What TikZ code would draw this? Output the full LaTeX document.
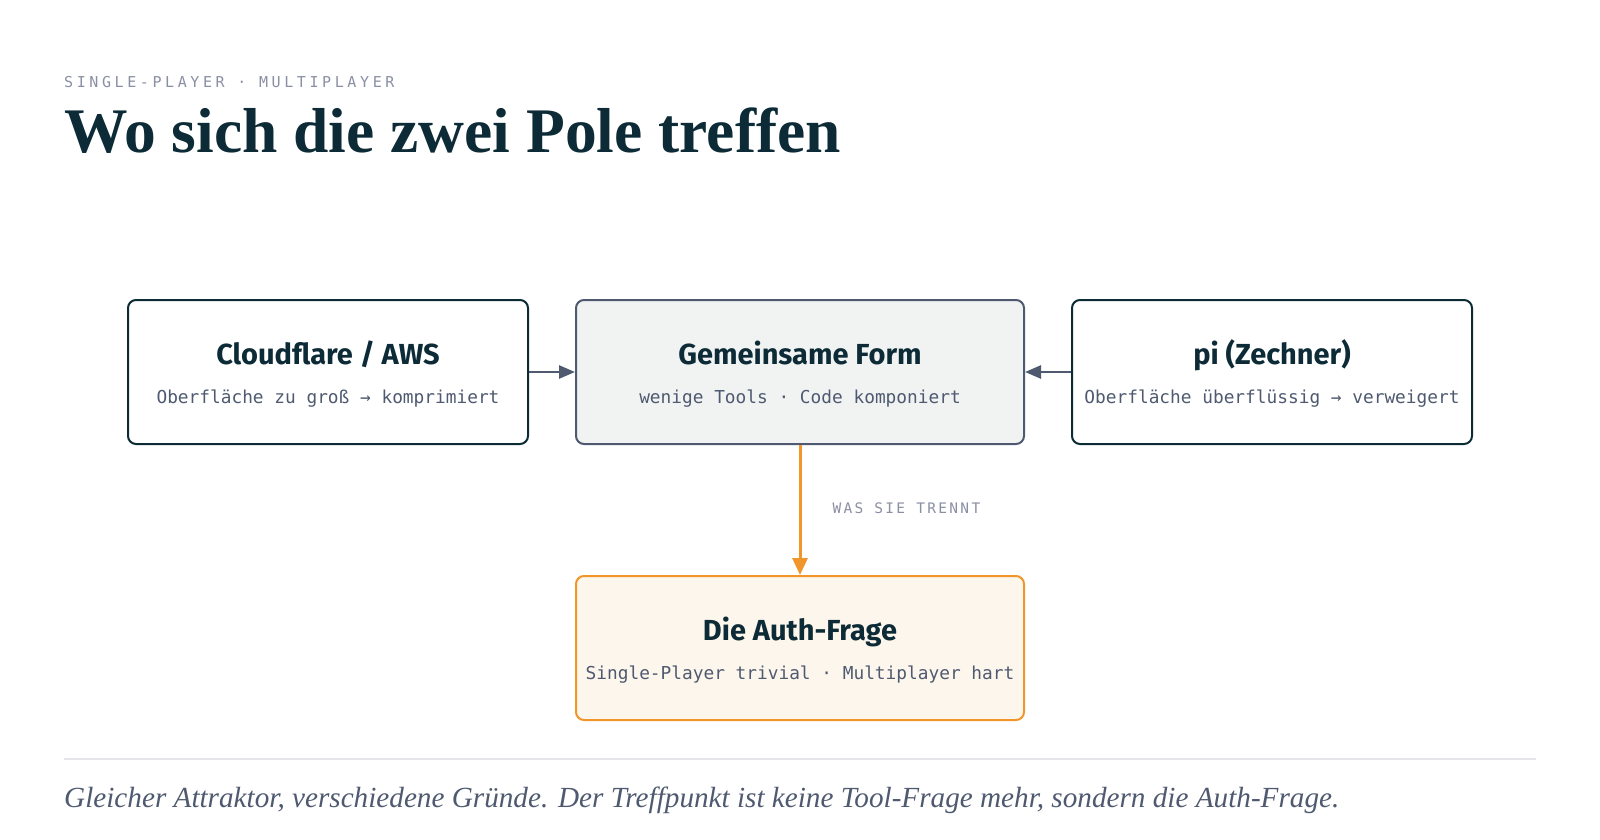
\documentclass[tikz,border=0pt]{standalone}
\usepackage{fontspec}
\setmainfont{Liberation Serif}
\setsansfont{Fira Sans}
\setmonofont{DejaVu Sans Mono}
\newfontfamily\kickerfont[LetterSpace=24]{DejaVu Sans Mono}
\newfontfamily\tagfont[LetterSpace=16]{DejaVu Sans Mono}
\usetikzlibrary{arrows.meta,positioning}

\definecolor{ink}{HTML}{0D2B37}
\definecolor{slate}{HTML}{4F5A70}
\definecolor{mute}{HTML}{8A8FA3}
\definecolor{coreFill}{HTML}{F1F3F3}
\definecolor{amber}{HTML}{F0962A}
\definecolor{amberFill}{HTML}{FDF6EC}
\definecolor{rule}{HTML}{E4E6EA}

\begin{document}
\begin{tikzpicture}[x=1pt,y=-1pt,
  pole/.style={draw=ink,line width=2pt,rounded corners=8pt,fill=white,minimum width=400pt,minimum height=144pt},
  core/.style={pole,draw=slate,fill=coreFill,minimum width=448pt},
  auth/.style={core,draw=amber,fill=amberFill},
  boxtitle/.style={inner sep=0,anchor=base,text=ink,font=\sffamily\bfseries\fontsize{29}{29}\selectfont},
  boxsub/.style={inner sep=0,anchor=base,text=slate,font=\ttfamily\fontsize{17.8}{18}\selectfont},
  link/.style={draw=slate,line width=2.6pt,-{Triangle[length=16pt,width=13pt]}}]
 \useasboundingbox (0,0) rectangle (1600,840);
 \fill[white] (0,0) rectangle (1600,840);

 % header
 \node[inner sep=0,anchor=base west,text=mute,font=\kickerfont\fontsize{15}{15}\selectfont] (kicker) at (64,88) {SINGLE-PLAYER · MULTIPLAYER};
 \node[inner sep=0,anchor=base west,text=ink,font=\bfseries\fontsize{63.5}{64}\selectfont] (headline) at (64,153) {Wo sich die zwei Pole treffen};

 % the two poles and where they meet
 \node[pole] (cf) at (328,372) {};
 \node[core] (form) at (800,372) {};
 \node[pole] (pi) at (1272,372) {};
 \node[auth] (auth) at (800,648) {};

 \foreach \nd/\x/\y/\ttl/\sub in {cf/328/300/{Cloudflare / AWS}/{Oberfläche zu groß → komprimiert},
   form/800/300/{Gemeinsame Form}/{wenige Tools · Code komponiert},
   pi/1272/300/{pi (Zechner)}/{Oberfläche überflüssig → verweigert},
   auth/800/576/{Die Auth-Frage}/{Single-Player trivial · Multiplayer hart}}{%
   \node[boxtitle] (\nd-title) at (\x,\y+64) {\ttl};
   \node[boxsub] (\nd-sub) at (\x,\y+103) {\sub};
 }

 \draw[link] (cf) -- (form);
 \draw[link] (pi) -- (form);
 \draw[link,draw=amber,fill=amber,line width=3pt,-{Triangle[length=17pt,width=15pt]}] (form) -- (auth)
   node[pos=0.525,anchor=base west,inner sep=0,xshift=31pt,text=mute,font=\tagfont\fontsize{14.5}{15}\selectfont] (split) {WAS SIE TRENNT};

 % footer
 \coordinate (ruleL) at (64,759);
 \coordinate (ruleR) at (1536,759);
 \draw[rule,line width=2pt] (ruleL) -- (ruleR);
 \node[inner sep=0,anchor=base west,text=slate,font=\itshape\fontsize{29.2}{29}\selectfont] (note) at (64,807) {Gleicher Attraktor, verschiedene Gründe. Der Treffpunkt ist keine Tool-Frage mehr, sondern die Auth-Frage.};
\end{tikzpicture}
\end{document}
